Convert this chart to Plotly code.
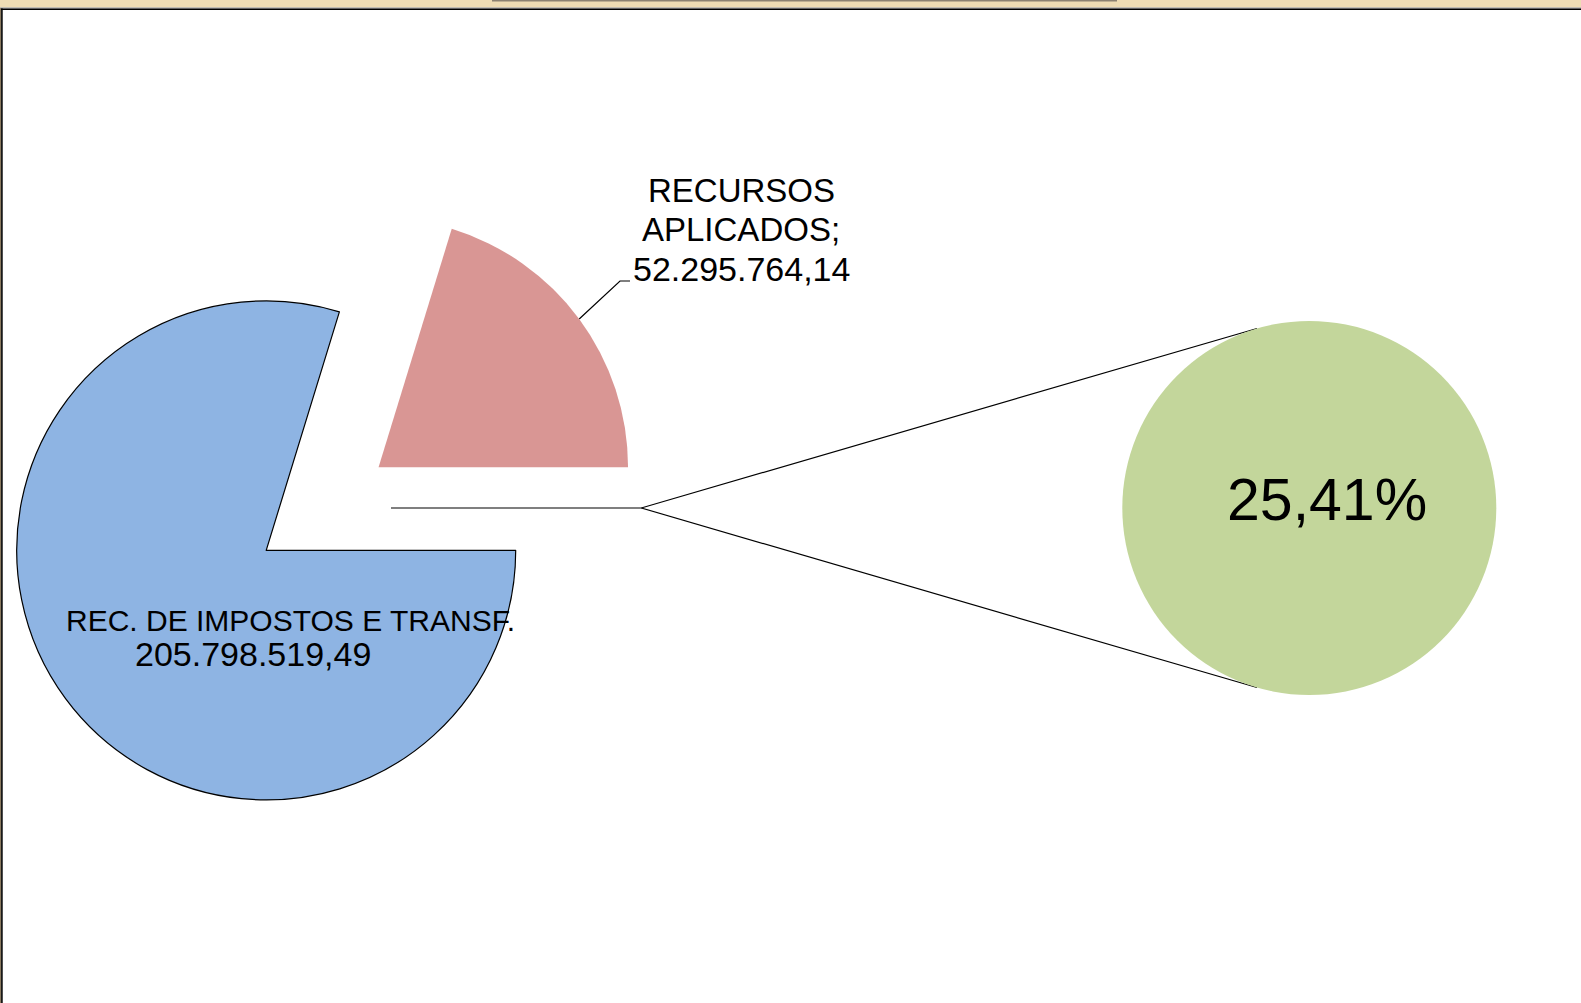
import math
import plotly.graph_objects as go

# ---------------- data ----------------
categories = ["RECURSOS APLICADOS", "REC. DE IMPOSTOS E TRANSF."]
label_lines_first = ["RECURSOS", "APLICADOS;"]
values = [52295764.14, 205798519.49]
colors = ["#D99694", "#8EB4E3"]
second_color = "#C3D69B"

def br_num(v):
    s = f"{v:,.2f}"
    return s.replace(",", "X").replace(".", ",").replace("X", ".")

ratio = values[0] / values[1]
ratio_text = f"{ratio*100:.2f}".replace(".", ",") + "%"

# ---------------- layout constants (pixels) ----------------
W, H = 1581, 1003
bcx, bcy, R = 266.2, 550.4, 249.5        # main pie centre / radius
pull = 0.56                               # explosion of first slice
gcx, gcy, gr = 1309.3, 508.0, 187.0       # secondary pie

total = sum(values)
red_frac = values[0] / total
bis = math.radians(red_frac * 360 / 2)    # bisector angle (from 3 o'clock, ccw)
rcx = bcx + pull * R * math.cos(bis)
rcy = bcy - pull * R * math.sin(bis)

def dom(cx, cy, r):
    return dict(x=[(cx - r) / W, (cx + r) / W], y=[1 - (cy + r) / H, 1 - (cy - r) / H])

rotation = 90 - red_frac * 360

fig = go.Figure()

# main pie - big slice
fig.add_trace(go.Pie(
    labels=categories, values=values, sort=False, direction="clockwise", rotation=rotation,
    marker=dict(colors=["rgba(0,0,0,0)", colors[1]],
                line=dict(color=["rgba(0,0,0,0)", "#000000"], width=1.2)),
    textinfo="none", hoverinfo="label+value", showlegend=False, domain=dom(bcx, bcy, R)))
# main pie - exploded slice
fig.add_trace(go.Pie(
    labels=categories, values=values, sort=False, direction="clockwise", rotation=rotation,
    marker=dict(colors=[colors[0], "rgba(0,0,0,0)"], line=dict(width=0)),
    textinfo="none", hoverinfo="label+value", showlegend=False, domain=dom(rcx, rcy, R)))
# secondary pie
fig.add_trace(go.Pie(
    labels=[categories[0]], values=[values[0]], sort=False,
    marker=dict(colors=[second_color], line=dict(width=0)),
    textinfo="none", hoverinfo="label+value", showlegend=False, domain=dom(gcx, gcy, gr)))

# series lines
px0, px1, py = 391.0, 641.3, 508.0
d = math.hypot(gcx - px1, gcy - py)
th = math.acos(gr / d)
t1 = (gcx - gr * math.cos(th), gcy - gr * math.sin(th))
t2 = (gcx - gr * math.cos(th), gcy + gr * math.sin(th))
fig.add_trace(go.Scatter(x=[px0, px1, t1[0], None, px1, t2[0]], y=[py, py, t1[1], None, py, t2[1]],
                         mode="lines", line=dict(color="#000000", width=1.2), hoverinfo="skip",
                         showlegend=False))
# leader line for red label
lx0 = rcx + R * math.cos(bis)
ly0 = rcy - R * math.sin(bis)
fig.add_trace(go.Scatter(x=[lx0, 620, 630], y=[ly0, 281, 281], mode="lines",
                         line=dict(color="#000000", width=1.2), hoverinfo="skip", showlegend=False))

font = "Liberation Sans, Arial, sans-serif"
ann = [
    dict(x=741, y=190, text=label_lines_first[0], font=dict(size=33)),
    dict(x=741, y=229.5, text=label_lines_first[1], font=dict(size=33)),
    dict(x=741, y=269, text=br_num(values[0]), font=dict(size=34)),
    dict(x=290, y=620, text=categories[1], font=dict(size=30)),
    dict(x=253, y=654, text=br_num(values[1]), font=dict(size=34)),
    dict(x=1327, y=500, text=ratio_text, font=dict(size=59)),
]
annotations = []
for a in ann:
    a.update(xref="x", yref="y", showarrow=False, xanchor="center", yanchor="middle")
    a["font"].update(family=font, color="#000000")
    annotations.append(a)

shapes = [
    dict(type="rect", xref="x", yref="y", x0=0, x1=W, y0=0, y1=7.6, fillcolor="#EEDCB4", line=dict(width=0), layer="below"),
    dict(type="rect", xref="x", yref="y", x0=492, x1=1117, y0=0, y1=1.4, fillcolor="#8C8272", line=dict(width=0), layer="below"),
    dict(type="line", xref="x", yref="y", x0=0, x1=W, y0=8, y1=8, line=dict(color="#8A8A8A", width=1), layer="below"),
    dict(type="line", xref="x", yref="y", x0=0, x1=W, y0=9.2, y1=9.2, line=dict(color="#000000", width=1.6), layer="below"),
    dict(type="line", xref="x", yref="y", x0=0.5, x1=0.5, y0=8, y1=H, line=dict(color="#8A7A60", width=1), layer="below"),
    dict(type="line", xref="x", yref="y", x0=1.9, x1=1.9, y0=8.5, y1=H, line=dict(color="#000000", width=1.6), layer="below"),
]

fig.update_layout(
    width=W, height=H, margin=dict(l=0, r=0, t=0, b=0, pad=0),
    paper_bgcolor="#FFFFFF", plot_bgcolor="rgba(0,0,0,0)",
    xaxis=dict(range=[0, W], visible=False, fixedrange=True),
    yaxis=dict(range=[H, 0], visible=False, fixedrange=True),
    annotations=annotations, shapes=shapes, showlegend=False,
)

fig.write_html("out.html", config={"displayModeBar": False},
               post_script="document.body.style.margin='0';document.body.style.overflow='hidden';")
